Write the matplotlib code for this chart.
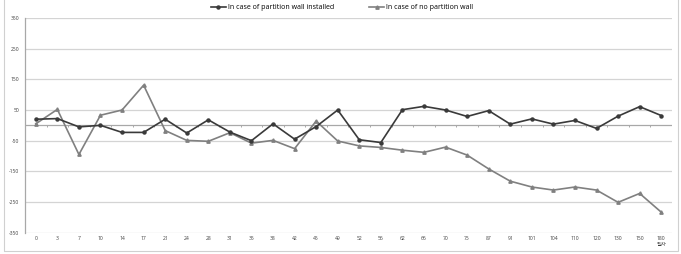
import matplotlib
matplotlib.use("Agg")
import matplotlib.pyplot as plt
from matplotlib.patches import Rectangle
import numpy as np

plt.rcParams['font.family'] = ['Open Sans', 'Noto Sans CJK KR', 'DejaVu Sans']

days = ["0", "3", "7", "10", "14", "17", "21", "24", "28", "31", "35", "38", "42", "45", "49",
        "52", "56", "62", "66", "70", "75", "87", "91", "101", "104", "110", "120", "130", "150", "180"]
with_wall = [20, 22, -5, 0, -23, -23, 20, -25, 18, -22, -50, 5, -45, -4, 50,
             -47, -56, 51, 62, 50, 29, 48, 4, 21, 4, 16, -10, 30, 61, 32]
no_wall = [5, 52, -95, 33, 50, 131, -17, -49, -52, -24, -58, -49, -76, 14, -51,
           -67, -72, -81, -88, -71, -97, -142, -182, -201, -211, -201, -211, -251, -222, -283]
y_ticks = [350, 250, 150, 50, -50, -150, -250, -350]
label_with = "In case of partition wall installed"
label_no = "In case of no partition wall"
x_title = "일자"

W, H = 681, 254
fig = plt.figure(figsize=(W / 100, H / 100), dpi=100)
ax = fig.add_axes([25 / W, (H - 232.7) / H, (672 - 25) / W, (232.7 - 18) / H])

x = np.arange(len(days))
for v in y_ticks:
    ax.axhline(v, color='#d4d4d4', lw=0.9, zorder=0)
ax.axhline(0, color='#a8a8a8', lw=0.9, zorder=1)
ax.vlines(np.arange(len(days) + 1) - 0.5, -5, 0, color='#a8a8a8', lw=0.7, zorder=1)

ax.plot(x, with_wall, color='#3a3a3a', lw=1.2, marker='o', ms=2.2, label=label_with, zorder=3)
ax.plot(x, no_wall, color='#808080', lw=1.2, marker='^', ms=2.4, label=label_no, zorder=2)

ax.set_xlim(-0.5, len(days) - 0.5)
ax.set_ylim(-350, 350)
ax.set_yticks(y_ticks)
ax.set_yticklabels([str(v) for v in y_ticks], fontsize=3.6, color='#404040')
ax.set_xticks(x)
ax.set_xticklabels(days, fontsize=3.6, color='#404040')
ax.tick_params(axis='y', length=0, pad=4)
ax.tick_params(axis='x', length=0, pad=2.5)
for s in ['top', 'right', 'bottom']:
    ax.spines[s].set_visible(False)
ax.spines['left'].set_color('#a8a8a8')
ax.spines['left'].set_linewidth(0.9)

ax.annotate(x_title, xy=(len(days) - 1, 0), xycoords=('data', 'axes fraction'),
            xytext=(0, -11.5), textcoords='offset pixels', fontsize=3.8, color='#404040',
            ha='center', va='center')

fig.legend(loc='upper center', bbox_to_anchor=(342 / W, 1.0), ncol=2, frameon=False,
           fontsize=5, handlelength=2.2, columnspacing=5, handletextpad=0.3, borderaxespad=0.2)

fig.patches.append(Rectangle((4 / W, 3 / H), 674 / W, 1.2, transform=fig.transFigure,
                             fill=False, edgecolor='#d0d0d0', lw=0.8))

fig.savefig("out.png", dpi=100)
